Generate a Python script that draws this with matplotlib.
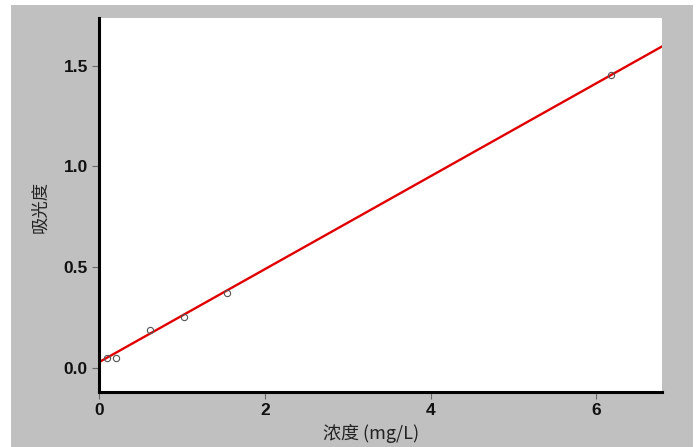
import matplotlib.pyplot as plt
from matplotlib.patches import Rectangle

# Datos
conc = [0.10, 0.20, 0.62, 1.03, 1.54, 6.17]
absorb = [0.047, 0.050, 0.187, 0.250, 0.373, 1.456]

# Recta de calibración (extremos)
fit_x = [0.0, 6.8]
fit_y = [0.027, 1.598]

x_ticks = [0, 2, 4, 6]
y_ticks = [0.0, 0.5, 1.0, 1.5]

cjk = ['Noto Sans CJK SC', 'DejaVu Sans']

fig = plt.figure(figsize=(6.98, 4.47), dpi=100)
fig.patch.set_facecolor('white')

# Fondo gris
fig.patches.append(Rectangle((11 / 698, 0), 682 / 698, 442 / 447,
                             transform=fig.transFigure, facecolor='#c0c0c0',
                             edgecolor='none', zorder=-10))

ax = fig.add_axes([99 / 698, 1 - 392 / 447, 563 / 698, 374 / 447])
ax.set_facecolor('white')

ax.plot(fit_x, fit_y, color='#e00000', lw=1.7, zorder=2)
ax.plot(conc, absorb, 'o', mfc='none', mec='#555555', ms=4.5, mew=0.8, zorder=3)

ax.set_xlim(0, 6.79)
ax.set_ylim(-0.121, 1.737)
ax.set_xticks(x_ticks)
ax.set_xticklabels([str(t) for t in x_ticks])
ax.set_yticks(y_ticks)
ax.set_yticklabels(['%.1f' % t for t in y_ticks])

for s in ['top', 'right']:
    ax.spines[s].set_visible(False)
for s in ['left', 'bottom']:
    ax.spines[s].set_linewidth(2.2)
    ax.spines[s].set_color('black')

ax.tick_params(direction='out', length=5, width=0.8, color='#666666', pad=3)
for lab in ax.get_xticklabels() + ax.get_yticklabels():
    lab.set_fontfamily('Liberation Sans')
    lab.set_fontweight('bold')
    lab.set_fontsize(12.5)
    lab.set_color('#111111')

ax.set_xlabel('浓度 (mg/L)', family=cjk, fontsize=13, color='#222222', va='center')
ax.set_ylabel('吸光度', family=cjk, fontsize=12.5, color='#222222', va='center')
ax.xaxis.set_label_coords(0.483, -0.11)
ax.yaxis.set_label_coords(-0.105, 0.495)

fig.savefig('out.png', dpi=100, facecolor=fig.get_facecolor())
